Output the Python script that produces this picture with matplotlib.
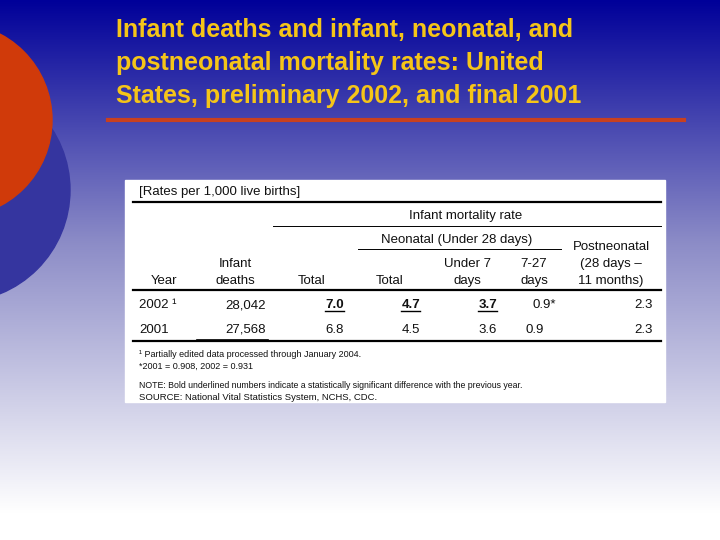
import matplotlib
matplotlib.use("Agg")
import matplotlib.pyplot as plt
import numpy as np
from matplotlib.patches import Circle, Rectangle

title_lines = ["Infant deaths and infant, neonatal, and",
               "postneonatal mortality rates: United",
               "States, preliminary 2002, and final 2001"]
years = ["2002 ¹", "2001"]
deaths = ["28,042", "27,568"]
total = ["7.0", "6.8"]
neo_total = ["4.7", "4.5"]
under7 = ["3.7", "3.6"]
d7_27 = ["0.9*", "0.9"]
postneo = ["2.3", "2.3"]
significant = {(0, 2), (0, 3), (0, 4)}  # (row, col) bold underlined
footnotes = ["¹ Partially edited data processed through January 2004.",
             "*2001 = 0.908, 2002 = 0.931"]
note = "NOTE: Bold underlined numbers indicate a statistically significant difference with the previous year."
source = "SOURCE: National Vital Statistics System, NCHS, CDC."

fig = plt.figure(figsize=(7.2, 5.4), dpi=100)
ax = fig.add_axes([0, 0, 1, 1])
ax.set_xlim(0, 720); ax.set_ylim(540, 0); ax.axis("off")

# gradient background
grad = np.linspace(0, 1, 540)
top = np.array([0.0, 0.0, 0.6]); mid = np.array([0.55, 0.55, 0.78]); bot = np.array([1, 1, 1])
cols = []
for g in grad:
    if g < 0.45:
        t = g / 0.45; c = top * (1 - t) + mid * t
    else:
        t = min(1, (g - 0.45) / 0.5); c = mid * (1 - t) + bot * t
    cols.append(c)
img = np.array(cols)[:, None, :].repeat(2, axis=1)
ax.imshow(img, extent=[0, 720, 540, 0], aspect="auto", zorder=0)

ax.add_patch(Circle((-42, 190), 112, color="#35359f", zorder=1))
ax.add_patch(Circle((-45, 120), 97, color="#d03a0a", zorder=2))

tf = ['Liberation Sans', 'DejaVu Sans']
for i, line in enumerate(title_lines):
    ax.text(116, 37 + i * 33, line, color="#f5c518", fontsize=18, fontweight="bold",
            family=tf, va="baseline", ha="left", zorder=3)
ax.plot([108, 684], [120, 120], color="#c8401f", lw=3, zorder=3)

ax.add_patch(Rectangle((125, 180), 540, 222, color="white", zorder=3))
fs = 9.5
fam = ['Liberation Sans', 'DejaVu Sans']
def T(x, y, s, ha="center", **kw):
    return ax.text(x, y, s, ha=ha, va="baseline", fontsize=kw.pop("fontsize", fs),
                   family=fam, color="#111111", zorder=4, **kw)

T(139, 195, "[Rates per 1,000 live births]", ha="left")
ax.plot([197, 273], [202, 202], color="black", lw=1.2, zorder=4)
ax.plot([133, 661], [202, 202], color="black", lw=1.6, zorder=4)
T(466, 219, "Infant mortality rate")
ax.plot([273, 661], [226, 226], color="black", lw=0.7, zorder=4)
T(457, 243, "Neonatal (Under 28 days)")
ax.plot([358, 561], [249, 249], color="black", lw=0.7, zorder=4)
T(611, 250, "Postneonatal"); T(611, 267, "(28 days –"); T(611, 284, "11 months)")
T(164, 284, "Year"); T(235, 267, "Infant"); T(235, 284, "deaths")
T(312, 284, "Total"); T(390, 284, "Total")
T(467, 267, "Under 7"); T(467, 284, "days"); T(534, 267, "7-27"); T(534, 284, "days")
ax.plot([133, 661], [290, 290], color="black", lw=1.6, zorder=4)

rights = [266, 344, 420, 497, 556, 653]
cols_data = [deaths, total, neo_total, under7, d7_27, postneo]
rows_y = [308, 333]
fig.canvas.draw()
r = fig.canvas.get_renderer()
for ri in range(2):
    T(139, rows_y[ri], years[ri], ha="left")
    for ci, col in enumerate(cols_data):
        x = rights[ci]
        if ri == 1 and ci == 4:
            x = 544
        bold = (ri, ci + 1) in significant
        t = T(x, rows_y[ri], col[ri], ha="right", fontweight="bold" if bold else "normal")
        if bold:
            bb = t.get_window_extent(r)
            inv = ax.transData.inverted()
            (x0, _), (x1, _) = inv.transform([(bb.x0, 0), (bb.x1, 0)])
            ax.plot([x0, x1], [rows_y[ri] + 3, rows_y[ri] + 3], color="black", lw=1, zorder=4)
ax.plot([197, 268], [340, 340], color="black", lw=1.2, zorder=4)
ax.plot([133, 661], [341, 341], color="black", lw=1.6, zorder=4)

T(139, 357, footnotes[0], ha="left", fontsize=6.5)
T(139, 369, footnotes[1], ha="left", fontsize=6.5)
T(139, 388, note, ha="left", fontsize=6.3)
T(139, 400, source, ha="left", fontsize=6.8)

fig.savefig("out.png", dpi=100)
